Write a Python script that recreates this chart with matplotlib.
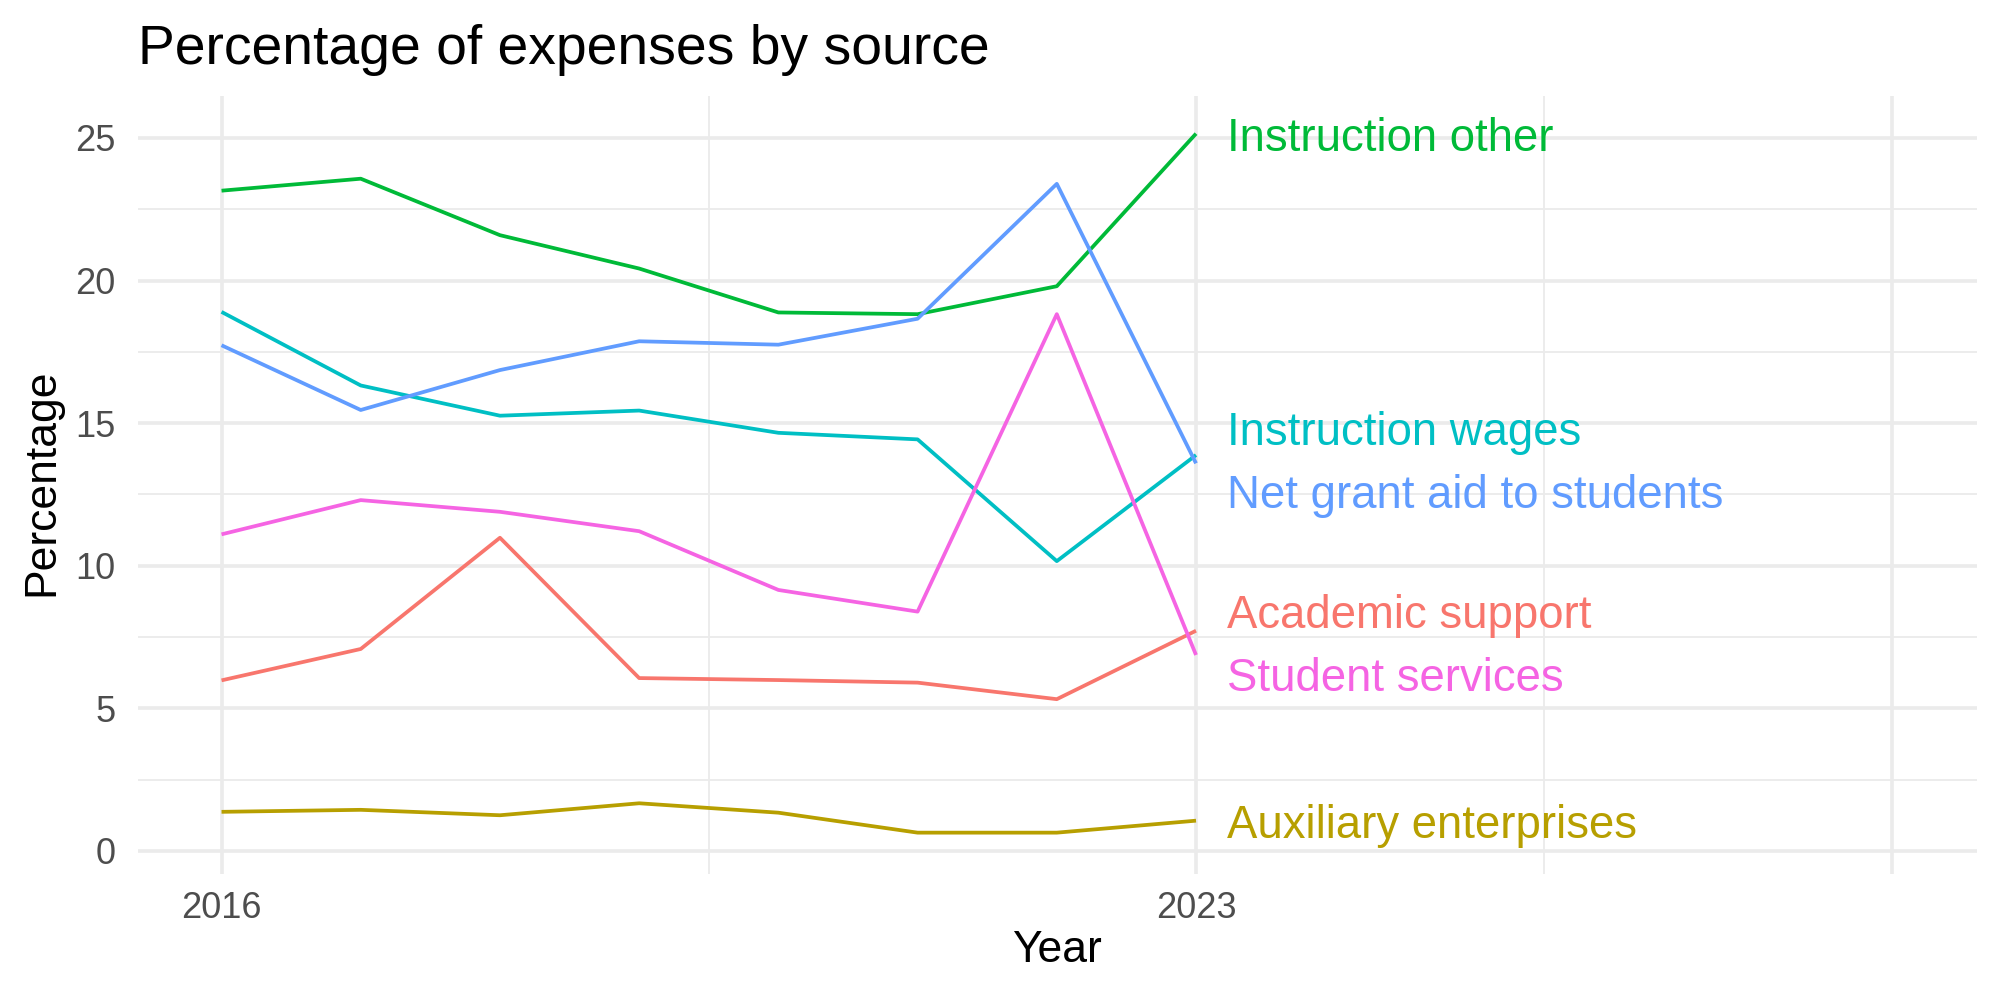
import matplotlib
matplotlib.use("Agg")
import matplotlib.pyplot as plt
from matplotlib.ticker import FixedLocator

plt.rcParams['font.family'] = ['Liberation Sans', 'DejaVu Sans']

years = [2016, 2017, 2018, 2019, 2020, 2021, 2022, 2023]

sources = ['Academic support', 'Auxiliary enterprises', 'Instruction other',
           'Instruction wages', 'Net grant aid to students', 'Student services']

academic_support = [5.98, 7.08, 10.98, 6.06, 5.99, 5.90, 5.32, 7.72]
auxiliary_enterprises = [1.37, 1.44, 1.25, 1.67, 1.34, 0.64, 0.64, 1.06]
instruction_other = [23.15, 23.57, 21.59, 20.42, 18.88, 18.82, 19.80, 25.15]
instruction_wages = [18.90, 16.32, 15.26, 15.44, 14.66, 14.43, 10.16, 13.88]
net_grant_aid = [17.73, 15.46, 16.86, 17.87, 17.75, 18.66, 23.39, 13.59]
student_services = [11.10, 12.30, 11.89, 11.21, 9.15, 8.39, 18.82, 6.87]

series = [academic_support, auxiliary_enterprises, instruction_other,
          instruction_wages, net_grant_aid, student_services]

# ggplot default hue palette for 6 groups
colors = ['#F8766D', '#B79F00', '#00BA38', '#00BFC4', '#619CFF', '#F564E3']

x_breaks = [2016, 2023, 2028]
x_labels = ['2016', '2023', '']
y_breaks = [0, 5, 10, 15, 20, 25]


def spread_labels(values, min_gap):
    # push end labels apart so they don't overlap (rough repel)
    order = sorted(range(len(values)), key=lambda i: values[i])
    pos = list(values)
    for _ in range(50):
        moved = False
        for a, b in zip(order[:-1], order[1:]):
            gap = pos[b] - pos[a]
            if gap < min_gap:
                shift = (min_gap - gap) / 2
                pos[a] -= shift
                pos[b] += shift
                moved = True
        if not moved:
            break
    return pos


fig = plt.figure(figsize=(20, 10), dpi=100)
ax = fig.add_axes([0.069, 0.126, 0.9195, 0.778])

for vals, col in zip(series, colors):
    ax.plot(years, vals, color=col, lw=2.7, solid_capstyle='butt', zorder=3)

last = [s[-1] for s in series]
label_y = spread_labels(last, 2.2)
for name, y, col in zip(sources, label_y, colors):
    ax.text(years[-1] + 0.22, y, name, color=col, fontsize=32.8,
            ha='left', va='center_baseline', clip_on=False, zorder=4)

ax.set_xlim(2015.40, 2028.61)
ax.set_ylim(-0.81, 26.47)

ax.xaxis.set_major_locator(FixedLocator(x_breaks))
ax.set_xticklabels(x_labels)
ax.xaxis.set_minor_locator(FixedLocator([2019.5, 2025.5]))
ax.yaxis.set_major_locator(FixedLocator(y_breaks))
ax.yaxis.set_minor_locator(FixedLocator([2.5, 7.5, 12.5, 17.5, 22.5]))

ax.grid(which='major', color='#EBEBEB', lw=2.6, zorder=0)
ax.grid(which='minor', color='#EBEBEB', lw=1.3, zorder=0)
ax.set_axisbelow(True)
for sp in ax.spines.values():
    sp.set_visible(False)

ax.tick_params(which='both', length=0)
ax.tick_params(axis='x', labelsize=26, labelcolor='#4D4D4D', pad=12)
ax.tick_params(axis='y', labelsize=26, labelcolor='#4D4D4D', pad=16)

fig.text(0.069, 0.936, 'Percentage of expenses by source', fontsize=39.8,
         ha='left', va='baseline', color='black')
fig.text(0.5285, 0.049, 'Year', fontsize=32, ha='center', va='center')
fig.text(0.021, 0.518, 'Percentage', fontsize=32, ha='center', va='center',
         rotation=90)

fig.savefig('out.png', dpi=100)
